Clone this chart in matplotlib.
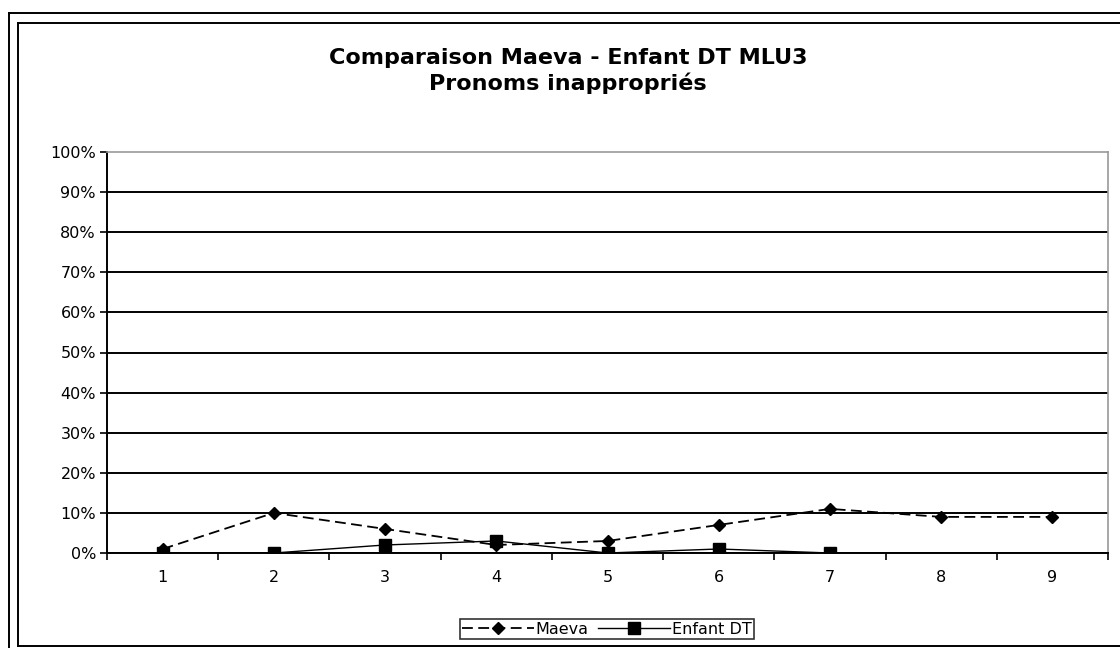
import matplotlib.pyplot as plt
from matplotlib.lines import Line2D
from matplotlib.ticker import FuncFormatter

# data
categories = [1, 2, 3, 4, 5, 6, 7, 8, 9]
maeva = [1, 10, 6, 2, 3, 7, 11, 9, 9]
enfant_dt = [0, 0, 2, 3, 0, 1, 0, None, None]
y_ticks = [0, 10, 20, 30, 40, 50, 60, 70, 80, 90, 100]

W, H = 1120, 648
fig = plt.figure(figsize=(W / 100, H / 100), dpi=100)
fig.patch.set_facecolor("white")

# double frame around the chart
def fx(px):
    return px / W

def fy(py):
    return 1 - py / H

fig.add_artist(Line2D([fx(9), fx(9)], [fy(13), 0], color="black", lw=1.4))
fig.add_artist(Line2D([fx(9), 1], [fy(13), fy(13)], color="black", lw=1.4))
fig.add_artist(Line2D([fx(18), fx(18)], [fy(23), fy(646)], color="black", lw=1.4))
fig.add_artist(Line2D([fx(18), 1], [fy(23), fy(23)], color="black", lw=1.4))
fig.add_artist(Line2D([fx(18), 1], [fy(646), fy(646)], color="black", lw=1.4))

# plot area
left, right, top, bottom = 107, 1108, 152, 553
ax = fig.add_axes([fx(left), fy(bottom), (right - left) / W, (bottom - top) / H])

ax.set_xlim(0.5, 9.5)
ax.set_ylim(0, 100)

for v in y_ticks[:-1]:
    ax.axhline(v, color="black", lw=1.4, zorder=1)

ax.plot(categories, maeva, color="black", lw=1.3, ls=(0, (6, 3)),
        marker="D", markersize=6, label="Maeva", zorder=3)
ax.plot(categories, enfant_dt, color="black", lw=1.0, ls="-",
        marker="s", markersize=9, label="Enfant DT", zorder=4)

ax.set_yticks(y_ticks)
ax.yaxis.set_major_formatter(FuncFormatter(lambda v, p: f"{int(v)}%"))
ax.set_xticks(categories)
ax.set_xticks([c + 0.5 for c in [0] + categories], minor=True)
ax.tick_params(axis="x", which="major", length=0, pad=12, labelsize=11.5)
ax.tick_params(axis="x", which="minor", length=5, width=1.2, direction="out")
ax.tick_params(axis="y", length=5, width=1.2, direction="out", labelsize=11.5, pad=3)

ax.spines["left"].set_color("black")
ax.spines["left"].set_linewidth(1.4)
ax.spines["bottom"].set_color("black")
ax.spines["bottom"].set_linewidth(1.4)
ax.spines["top"].set_color("#999999")
ax.spines["right"].set_color("#999999")
ax.spines["top"].set_linewidth(1.2)
ax.spines["right"].set_linewidth(1.2)

fig.text(fx(568), fy(71), "Comparaison Maeva - Enfant DT MLU3\nPronoms inappropriés",
         ha="center", va="center", fontsize=16, fontweight="bold", linespacing=1.3)

leg = fig.legend(loc="center", bbox_to_anchor=(fx(607), fy(629)), ncol=2,
                 frameon=True, fancybox=False, edgecolor="black", fontsize=11.5,
                 handlelength=4.5, handletextpad=0.1, columnspacing=0.6,
                 borderpad=0.15, borderaxespad=0)
leg.get_frame().set_linewidth(1.2)

fig.savefig("out.png", dpi=100)
